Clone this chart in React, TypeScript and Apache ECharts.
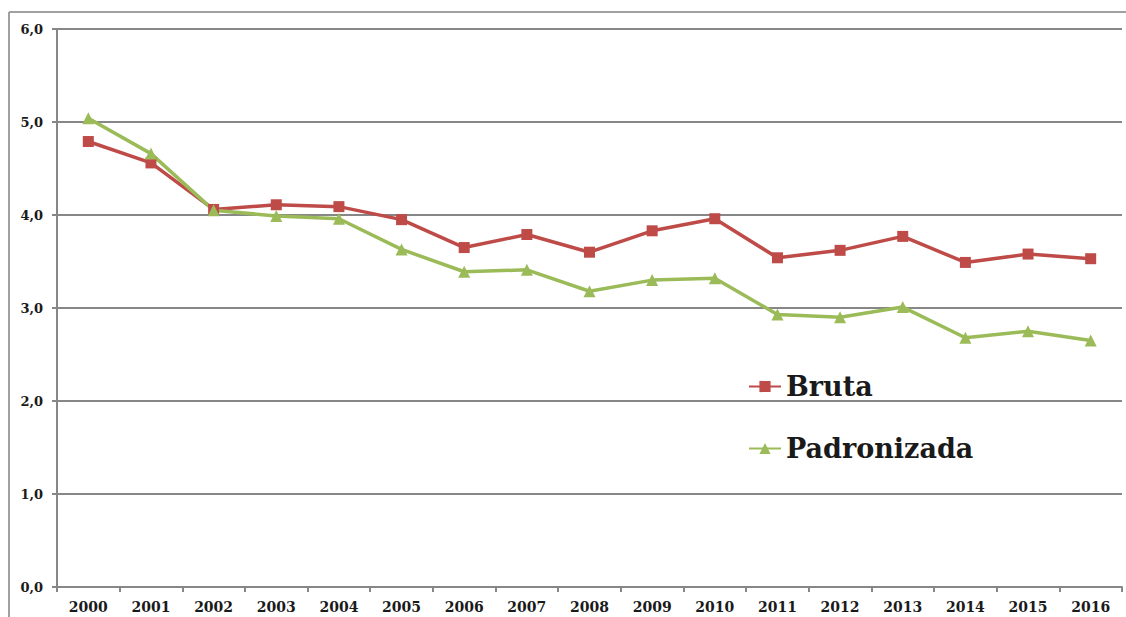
import React, { useEffect, useRef } from "react";
import * as echarts from "echarts";

const years = ["2000","2001","2002","2003","2004","2005","2006","2007","2008","2009","2010","2011","2012","2013","2014","2015","2016"];
const bruta = [4.79, 4.56, 4.06, 4.11, 4.09, 3.95, 3.65, 3.79, 3.60, 3.83, 3.96, 3.54, 3.62, 3.77, 3.49, 3.58, 3.53];
const padronizada = [5.04, 4.66, 4.05, 3.99, 3.96, 3.63, 3.39, 3.41, 3.18, 3.30, 3.32, 2.93, 2.90, 3.01, 2.68, 2.75, 2.65];
const seriesNames = ["Bruta", "Padronizada"];

const FONT = "'DejaVu Serif', 'Liberation Serif', serif";
const GRAY = "#878787";

export default function App() {
  const ref = useRef<HTMLDivElement>(null);
  useEffect(() => {
    if (!ref.current) return;
    const chart = echarts.init(ref.current, undefined, { renderer: "svg" });
    chart.setOption({
      animation: false,
      backgroundColor: "#fff",
      graphic: [
        { type: "line", shape: { x1: 9, y1: 12, x2: 1126, y2: 12 }, style: { stroke: "#a0a0a0", lineWidth: 2 } },
        { type: "line", shape: { x1: 9, y1: 12, x2: 9, y2: 617 }, style: { stroke: "#a0a0a0", lineWidth: 2 } },
      ],
      grid: { left: 57, top: 29, right: 4, bottom: 30, containLabel: false },
      legend: {
        orient: "vertical",
        left: 743,
        top: 366,
        itemWidth: 32,
        itemHeight: 14,
        itemGap: 31,
        data: seriesNames,
        textStyle: { fontFamily: FONT, fontWeight: "bold", fontSize: 27, color: "#1a1a1a", lineHeight: 31 },
      },
      xAxis: {
        type: "category",
        data: years,
        boundaryGap: true,
        axisLine: { lineStyle: { color: GRAY, width: 2 } },
        axisTick: { show: true, length: 5, inside: false, lineStyle: { color: GRAY, width: 2 } },
        axisLabel: { fontFamily: FONT, fontWeight: "bold", fontSize: 14, color: "#1a1a1a", margin: 13 },
      },
      yAxis: {
        type: "value",
        min: 0,
        max: 6,
        interval: 1,
        axisLine: { show: true, lineStyle: { color: GRAY, width: 2 } },
        axisTick: { show: true, length: 5, lineStyle: { color: GRAY, width: 2 } },
        splitLine: { show: true, lineStyle: { color: GRAY, width: 2 } },
        axisLabel: {
          fontFamily: FONT,
          fontWeight: "bold",
          fontSize: 13,
          color: "#1a1a1a",
          margin: 14,
          formatter: (v: number) => v.toFixed(1).replace(".", ","),
        },
      },
      series: [
        {
          name: seriesNames[0],
          type: "line",
          data: bruta,
          symbol: "rect",
          symbolSize: 11,
          itemStyle: { color: "#BE4B48" },
          lineStyle: { color: "#BE4B48", width: 3.5 },
        },
        {
          name: seriesNames[1],
          type: "line",
          data: padronizada,
          symbol: "triangle",
          symbolSize: 12,
          itemStyle: { color: "#9BBB59" },
          lineStyle: { color: "#9BBB59", width: 3.5 },
        },
      ],
    });
    return () => chart.dispose();
  }, []);
  return (
    <div
      ref={ref}
      style={{ position: "absolute", left: 0, top: 0, width: 1126, height: 617 }}
    />
  );
}
